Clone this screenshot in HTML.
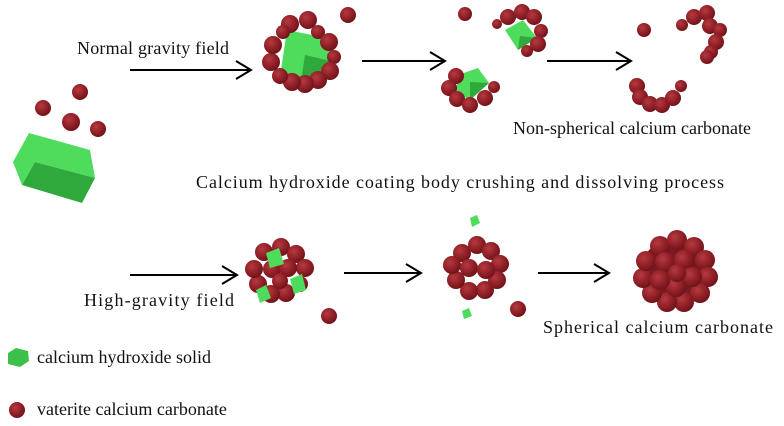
<!DOCTYPE html>
<html><head><style>
body{margin:0;background:#fff;width:784px;height:426px;overflow:hidden}
svg{display:block}
text{font-family:"Liberation Serif",serif;font-size:18px;fill:#111}
</style></head><body>
<svg width="784" height="426" viewBox="0 0 784 426">
<defs>
<radialGradient id="b" cx="0.38" cy="0.35" r="0.7">
<stop offset="0" stop-color="#b53a40"/><stop offset="0.6" stop-color="#8e1e26"/><stop offset="1" stop-color="#6a1218"/>
</radialGradient>
<marker id="ar" markerWidth="18" markerHeight="20" refX="16" refY="10" orient="auto" markerUnits="userSpaceOnUse">
<path d="M1,1 L16,10 L1,19" fill="none" stroke="#000" stroke-width="2"/>
</marker>
</defs>

<text x="77" y="54" textLength="152">Normal gravity field</text>
<text x="513" y="134" textLength="238">Non-spherical calcium carbonate</text>
<text x="196" y="188" textLength="528">Calcium hydroxide coating body crushing and dissolving process</text>
<text x="84" y="306" textLength="150">High-gravity field</text>
<text x="543" y="333" textLength="230">Spherical calcium carbonate</text>
<text x="37" y="363">calcium hydroxide solid</text>
<text x="37" y="415">vaterite calcium carbonate</text>

<g stroke="#000" stroke-width="2" marker-end="url(#ar)">
<line x1="130" y1="70" x2="251" y2="70"/>
<line x1="362" y1="61" x2="445" y2="61"/>
<line x1="547" y1="61" x2="631" y2="61"/>
<line x1="130" y1="275" x2="237" y2="275"/>
<line x1="344" y1="273" x2="421" y2="273"/>
<line x1="538" y1="273" x2="609" y2="273"/>
</g>

<polygon points="13,162 29,133 90,150 95,178 35,162 22,185" fill="#4fdc5c"/>
<polygon points="35,162 95,178 82,203 22,185" fill="#2fa83c"/>
<g fill="url(#b)">
<circle cx="43" cy="108" r="8"/><circle cx="80" cy="92" r="8"/><circle cx="71" cy="122" r="9"/><circle cx="98" cy="129" r="8"/>
</g>

<polygon points="287,30 327,38 335,62 300,88 281,70" fill="#4fdc5c"/>
<polygon points="305,55 335,62 300,88" fill="#2fa83c"/>
<g fill="url(#b)">
<circle cx="290" cy="24" r="9"/><circle cx="308" cy="20" r="9"/><circle cx="318" cy="32" r="7"/><circle cx="329" cy="42" r="9"/><circle cx="334" cy="57" r="7"/><circle cx="330" cy="71" r="9"/><circle cx="318" cy="80" r="9"/><circle cx="305" cy="84" r="9"/><circle cx="292" cy="82" r="9"/><circle cx="280" cy="76" r="8"/><circle cx="271" cy="62" r="9"/><circle cx="273" cy="45" r="9"/><circle cx="283" cy="32" r="7"/>
<circle cx="348" cy="15" r="8"/>
</g>

<polygon points="505,30 523,20 537,38 518,50" fill="#4fdc5c"/>
<polygon points="520,36 537,38 518,50" fill="#2fa83c"/>
<g fill="url(#b)">
<circle cx="465" cy="14" r="7"/>
<circle cx="497" cy="24" r="5"/><circle cx="508" cy="17" r="8"/><circle cx="522" cy="12" r="8"/><circle cx="534" cy="17" r="8"/><circle cx="541" cy="31" r="7"/><circle cx="538" cy="44" r="8"/><circle cx="527" cy="51" r="6"/>
</g>
<polygon points="458,75 478,68 489,83 470,100 456,92" fill="#4fdc5c"/>
<polygon points="470,82 489,83 470,100" fill="#2fa83c"/>
<g fill="url(#b)">
<circle cx="456" cy="76" r="8"/><circle cx="449" cy="88" r="8"/><circle cx="457" cy="99" r="8"/><circle cx="470" cy="105" r="8"/><circle cx="485" cy="98" r="8"/><circle cx="494" cy="87" r="6"/>
</g>
<g fill="url(#b)">
<circle cx="644" cy="30" r="7"/>
<circle cx="682" cy="25" r="6"/><circle cx="694" cy="17" r="8"/><circle cx="707" cy="13" r="8"/><circle cx="710" cy="26" r="8"/><circle cx="720" cy="30" r="7"/><circle cx="716" cy="42" r="8"/><circle cx="711" cy="52" r="7"/><circle cx="707" cy="57" r="7"/>
<circle cx="637" cy="86" r="8"/><circle cx="640" cy="97" r="8"/><circle cx="650" cy="104" r="8"/><circle cx="662" cy="105" r="8"/><circle cx="673" cy="98" r="8"/><circle cx="681" cy="86" r="6"/>
</g>

<g>
<g fill="url(#b)">
<circle cx="264" cy="252" r="9"/><circle cx="281" cy="247" r="9"/><circle cx="296" cy="254" r="9"/><circle cx="305" cy="268" r="9"/><circle cx="300" cy="284" r="8"/><circle cx="286" cy="293" r="9"/><circle cx="271" cy="294" r="9"/><circle cx="258" cy="284" r="9"/><circle cx="254" cy="269" r="9"/>
<circle cx="272" cy="269" r="9"/><circle cx="288" cy="268" r="9"/><circle cx="280" cy="281" r="8"/>
</g>
<polygon points="266,253 279,248 284,264 270,268" fill="#4fdc5c"/>
<polygon points="290,279 302,274 306,290 294,294" fill="#4fdc5c"/>
<polygon points="256,290 266,285 271,298 260,303" fill="#4fdc5c"/>
<circle cx="329" cy="316" r="8" fill="url(#b)"/>
</g>

<g fill="url(#b)">
<circle cx="462" cy="253" r="9"/><circle cx="477" cy="245" r="9"/><circle cx="491" cy="251" r="9"/><circle cx="500" cy="264" r="9"/><circle cx="497" cy="280" r="9"/><circle cx="485" cy="290" r="9"/><circle cx="469" cy="291" r="9"/><circle cx="456" cy="280" r="9"/><circle cx="452" cy="265" r="9"/>
<circle cx="469" cy="268" r="9"/><circle cx="486" cy="270" r="9"/>
<circle cx="518" cy="309" r="8"/>
</g>
<polygon points="470,218 477,215 480,223 472,227" fill="#4fdc5c"/>
<polygon points="462,311 469,308 472,316 464,319" fill="#4fdc5c"/>

<g fill="url(#b)">
<circle cx="675" cy="272" r="34" fill="#7a1820"/>
<circle cx="660" cy="246" r="10"/><circle cx="677" cy="240" r="10"/><circle cx="694" cy="247" r="10"/><circle cx="705" cy="260" r="10"/><circle cx="708" cy="277" r="10"/><circle cx="700" cy="293" r="10"/><circle cx="684" cy="302" r="10"/><circle cx="667" cy="302" r="10"/><circle cx="652" cy="293" r="10"/><circle cx="643" cy="278" r="10"/><circle cx="646" cy="261" r="10"/>
<circle cx="665" cy="262" r="10"/><circle cx="684" cy="260" r="10"/><circle cx="692" cy="277" r="10"/><circle cx="676" cy="287" r="10"/><circle cx="660" cy="280" r="10"/><circle cx="677" cy="273" r="9"/>
</g>

<polygon points="8,353 16,348 28,351 29,361 20,367 8,364" fill="#3cc04a"/>
<circle cx="17" cy="410" r="8" fill="url(#b)"/>
</svg>
</body></html>
